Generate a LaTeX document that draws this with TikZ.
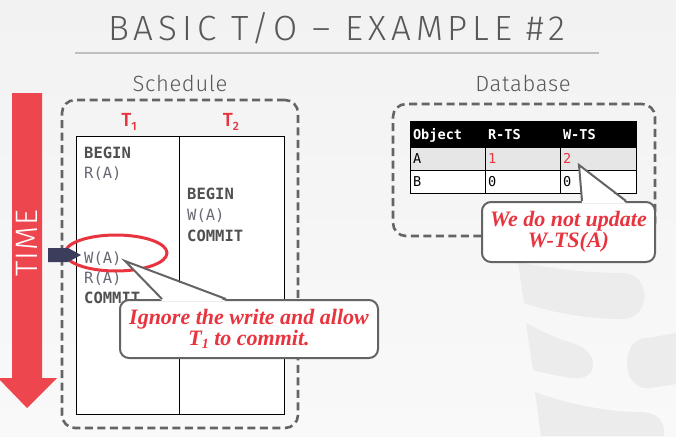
\documentclass[tikz,border=0pt]{standalone}
\usepackage{fontspec}
\setmainfont{Liberation Serif}
\setmonofont{DejaVu Sans Mono}
\newfontfamily\titlefam[LetterSpace=14]{Fira Sans Light}
\newfontfamily\labelfam[LetterSpace=3]{Fira Sans Light}
\newfontfamily\tfam{Fira Sans Medium}
\usepackage{tikz}
\usetikzlibrary{positioning,calc,shapes.geometric}
\usepackage{xcolor}
\definecolor{slidetop}{RGB}{242,242,242}
\definecolor{slidebot}{RGB}{249,249,249}
\definecolor{titlegray}{RGB}{88,88,88}
\definecolor{rulegray}{RGB}{190,190,190}
\definecolor{framegray}{RGB}{100,100,100}
\definecolor{opdark}{RGB}{80,80,80}
\definecolor{opgray}{RGB}{105,105,115}
\definecolor{hotred}{RGB}{232,52,63}
\definecolor{timered}{RGB}{238,70,78}
\definecolor{marknavy}{RGB}{60,60,92}
\definecolor{rowgray}{RGB}{230,230,230}
\definecolor{ghost}{RGB}{236,236,236}
\newcommand\optext{\ttfamily\fontsize{15.5}{15.5}\selectfont}
\newcommand\celltext{\ttfamily\fontsize{13.6}{13.6}\selectfont}
\newcommand\notefont{\fontsize{22}{21}\selectfont\bfseries\itshape}

\begin{document}
\begin{tikzpicture}[x=1pt,y=-1pt,
  lbl/.style={inner sep=0pt,text=titlegray},
  dashframe/.style={draw=framegray,line width=2.6pt,dash pattern=on 8pt off 4.5pt,rounded corners=13pt},
  txcol/.style={draw=black,line width=0.8pt,fill=white,minimum width=#1,minimum height=278pt,inner sep=0pt},
  opbold/.style={anchor=base west,inner sep=0pt,font=\optext\bfseries,text=opdark},
  opplain/.style={anchor=base west,inner sep=0pt,font=\optext,text=opgray},
  tlabel/.style={inner sep=0pt,font=\tfam\fontsize{19}{19}\selectfont,text=hotred},
  callout/.style={draw=framegray,line width=2pt,fill=white,rounded corners=9pt,
    font=\notefont,text=hotred,align=center,inner sep=0pt},
  pointer/.style={draw=framegray,line width=2pt,line join=miter},
  dbcell/.style={draw=black,line width=1pt,inner xsep=3pt,inner ysep=0pt,
    text height=11pt,text depth=1pt,align=left,font=\celltext}]

% slide background and watermark
\shade[top color=slidetop,bottom color=slidebot] (0,0) rectangle (676,436);
\useasboundingbox (0,0) rectangle (676,436);
\fill[ghost] (518,262) .. controls (560,270) and (590,273) .. (622,273)
  .. controls (652,273) and (652,319) .. (622,319)
  .. controls (585,319) and (550,312) .. (524,303) -- cycle;
\fill[ghost] (526,323) .. controls (545,333) and (560,340) .. (572,343)
  .. controls (600,350) and (600,382) .. (572,378)
  .. controls (558,376) and (545,373) .. (533,370) -- cycle;
\fill[ghost] (676,333) -- (676,384) .. controls (665,386) and (650,388) .. (648,388)
  .. controls (620,390) and (620,336) .. (648,338) -- cycle;
\fill[ghost] (535,392) .. controls (570,405) and (610,412) .. (640,412)
  .. controls (668,412) and (664,436) .. (664,436) -- (541,436) -- cycle;

% title
\node[lbl,font=\titlefam\fontsize{35}{35}\selectfont] (title) at (337,28) {BASIC T/O – EXAMPLE \#2};
\draw[rulegray,line width=1.5pt] (75,53) -- (599,53);

% time arrow
\fill[timered] (12,93) -- (42,93) -- (42,378) -- (57,378) -- (27,408) -- (-2,378) -- (12,378) -- cycle;
\node[inner sep=0pt,rotate=90,text=white,font=\labelfam\fontsize{31}{31}\selectfont] (time) at (27,243) {TIME};

% schedule
\node[lbl,font=\labelfam\fontsize{22}{22}\selectfont] (schedlbl) at (180,83) {Schedule};
\node[dashframe,minimum width=236pt,minimum height=328pt] (schedframe) at (180,264) {};
\node[txcol=103pt] (t1col) at (127.5,275) {};
\node[txcol=105pt] (t2col) at (231.5,275) {};
\node[tlabel] (t1lbl) at (129,122) {T\raisebox{-4pt}{\fontsize{12}{12}\selectfont 1}};
\node[tlabel] (t2lbl) at (231,122) {T\raisebox{-4pt}{\fontsize{12}{12}\selectfont 2}};

\node[opbold] (t1begin) at (84,158) {BEGIN};
\node[opplain] (t1read) at (84,178) {R(A)};
\node[opbold] (t2begin) at (187,199) {BEGIN};
\node[opplain] (t2write) at (187,220) {W(A)};
\node[opbold] (t2commit) at (187,241) {COMMIT};
\node[opplain] (t1write) at (84,263) {W(A)};
\node[opplain] (t1reread) at (84,283) {R(A)};
\node[opbold] (t1commit) at (84,303) {COMMIT};

\node[draw=hotred,line width=3pt,ellipse,minimum width=102pt,minimum height=36pt,inner sep=0pt] (hilite) at (116,253) {};
\fill[marknavy] (48,248) -- (68,248) -- (81,255) -- (68,262) -- (48,262) -- cycle;

% database
\node[lbl,font=\labelfam\fontsize{22}{22}\selectfont] (dblbl) at (523,83) {Database};
\node[dashframe,minimum width=262pt,minimum height=132pt] (dbframe) at (524,170) {};
\foreach \r/\ymid/\rh/\bg/\fg/\ca/\cb/\cc in
  {0/134/26/black/white/\textbf{Object}/\textbf{R-TS}/\textbf{W-TS},
   1/158.5/23/rowgray/black/A/\textcolor{hotred}{1}/\textcolor{hotred}{2},
   2/181.5/23/white/black/B/0/0}
{
  \node[dbcell,fill=\bg,text=\fg,minimum height=\rh pt,text width=69pt] (c\r a) at (447.5,\ymid) {\ca};
  \node[dbcell,fill=\bg,text=\fg,minimum height=\rh pt,text width=69pt] (c\r b) at (522.5,\ymid) {\cb};
  \node[dbcell,fill=\bg,text=\fg,minimum height=\rh pt,text width=70pt] (c\r c) at (598,\ymid) {\cc};
}

% callouts
\node[callout,minimum width=258pt,minimum height=58pt] (note1) at (249,329)
  {Ignore the write and allow\\T\raisebox{-3pt}{\fontsize{14}{14}\selectfont 1} to commit.};
\coordinate (tip1) at (125,261);
\fill[white] ($(note1.north west)+(43,2)$) -- (tip1) -- ($(note1.north west)+(107,2)$) -- cycle;
\draw[pointer] ($(note1.north west)+(43,0)$) -- (tip1) -- ($(note1.north west)+(107,0)$);

\node[callout,minimum width=173pt,minimum height=60pt] (note2) at (568.5,232)
  {We do not update\\W-TS(A)};
\coordinate (tip2) at (579,165);
\fill[white] ($(note2.north west)+(101,2)$) -- (tip2) -- ($(note2.north west)+(145,2)$) -- cycle;
\draw[pointer] ($(note2.north west)+(101,0)$) -- (tip2) -- ($(note2.north west)+(145,0)$);
\end{tikzpicture}
\end{document}
